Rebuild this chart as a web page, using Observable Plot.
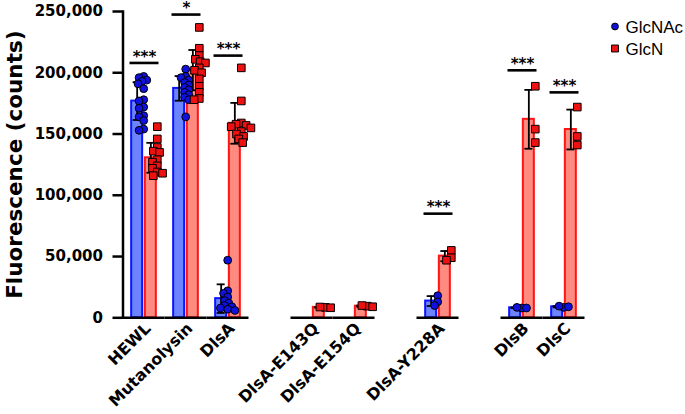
<!DOCTYPE html>
<html>
<head>
<meta charset="utf-8">
<script src="https://cdn.jsdelivr.net/npm/d3@7"></script>
<script src="https://cdn.jsdelivr.net/npm/@observablehq/plot@0.6"></script>
<style>
  html, body { margin: 0; padding: 0; background: #fff; }
</style>
</head>
<body>
<div id="chart"></div>
<script>
// ---- data (values in thousands of counts) ----
const groups = ["HEWL", "Mutanolysin", "DlsA", "DlsA-E143Q", "DlsA-E154Q", "DlsA-Y228A", "DlsB", "DlsC"];
// layout slots on the category axis (blank slots are the gaps between groups)
const slots = ["HEWL", "Mutanolysin", "DlsA", " ", "DlsA-E143Q", "DlsA-E154Q", "  ", "DlsA-Y228A", "   ", "DlsB", "DlsC"];
const series = ["GlcNAc", "GlcN"];

const glcnacValues = [
  [197, 196, 194, 193, 191, 187, 178, 177, 172, 171, 165, 164, 161, 154, 153],
  [203, 197, 196, 194, 192, 190, 188, 186, 184, 182, 180, 178, 164],
  [47, 22, 20, 17, 14, 12, 10, 9, 8, 7, 6],
  [],
  [],
  [18, 13, 10],
  [8, 8.5, 8],
  [8.5, 9.5, 9]
];
const glcnValues = [
  [156, 146, 139, 136, 135, 129, 127, 124, 122, 119, 118, 116],
  [237, 220, 214, 211, 209, 208, 204, 202, 200, 195, 189, 184, 179, 178],
  [204, 177, 159, 158, 157, 156, 155, 152, 150, 148, 146, 143],
  [8.5, 8.8, 8.2],
  [9.5, 10, 9],
  [55, 49, 47],
  [189, 154, 143],
  [172, 148, 141]
];

const sigGroups = ["HEWL", "Mutanolysin", "DlsA", "DlsA-Y228A", "DlsB", "DlsC"];
const sigLabels = ["***", "*", "***", "***", "***", "***"];
const sigLevels = [208, 247.5, 214, 85, 202, 184];

const yTicks = [0, 50000, 100000, 150000, 200000, 250000];

// ---- tables built from the arrays ----
const points = [];
groups.forEach((g, i) => {
  glcnacValues[i].forEach(v => points.push({group: g, series: "GlcNAc", value: v * 1000}));
  glcnValues[i].forEach(v => points.push({group: g, series: "GlcN", value: v * 1000}));
});
const summary = [];
groups.forEach((g, i) => {
  [[series[0], glcnacValues[i]], [series[1], glcnValues[i]]].forEach(([s, vals]) => {
    if (!vals.length) return;
    const m = d3.mean(vals) * 1000;
    const sd = (d3.deviation(vals) || 0) * 1000;
    summary.push({group: g, series: s, mean: m, lo: m - sd, hi: m + sd});
  });
});
const sig = sigGroups.map((g, i) => ({group: g, label: sigLabels[i], y: sigLevels[i] * 1000}));

const C = {
  blueFill: "#6c84ff", blueStroke: "#0a14ff", blueDot: "#1111dd",
  redFill: "#ff8a80", redStroke: "#ff1414", redDot: "#ee1111"
};
const bold = {fontWeight: "bold"};

const chart = Plot.plot({
  width: 685,
  height: 414,
  marginLeft: 122.5,
  marginRight: 100.5,
  marginTop: 11,
  marginBottom: 96.7,
  style: {fontFamily: "DejaVu Sans", background: "#fff", color: "#000", overflow: "visible"},
  fx: {domain: slots, paddingInner: 0, paddingOuter: 0, round: false, label: null},
  x: {domain: series, paddingInner: 0.05, paddingOuter: 0.56, round: false, axis: null},
  y: {domain: [0, 250000], label: null},
  marks: [
    // bars
    Plot.barY(summary.filter(d => d.series === "GlcNAc"), {fx: "group", x: "series", y: "mean",
      fill: C.blueFill, stroke: C.blueStroke, strokeWidth: 2, insetLeft: 1, insetRight: 1}),
    Plot.barY(summary.filter(d => d.series === "GlcN"), {fx: "group", x: "series", y: "mean",
      fill: C.redFill, stroke: C.redStroke, strokeWidth: 2, insetLeft: 1, insetRight: 1}),
    // error bars (mean ± SD)
    Plot.ruleX(summary, {fx: "group", x: "series", y1: "lo", y2: "hi", stroke: "#000", strokeWidth: 1.8}),
    Plot.tickY(summary, {fx: "group", x: "series", y: "hi", stroke: "#000", strokeWidth: 1.8, insetLeft: 2.5, insetRight: 2.5}),
    Plot.tickY(summary, {fx: "group", x: "series", y: "lo", stroke: "#000", strokeWidth: 1.8, insetLeft: 2.5, insetRight: 2.5}),
    // baseline
    Plot.ruleY([0], {stroke: "#000", strokeWidth: 2.5}),
    // individual points
    Plot.dot(points.filter(d => d.series === "GlcNAc"), Plot.dodgeX({anchor: "middle", padding: -3},
      {fx: "group", y: "value", r: 3.9, dx: -6.8, fill: C.blueDot, stroke: "#000", strokeWidth: 1})),
    Plot.dot(points.filter(d => d.series === "GlcN"), Plot.dodgeX({anchor: "middle", padding: -3.2},
      {fx: "group", y: "value", r: 4.3, symbol: "square", dx: 6.8, fill: C.redDot, stroke: "#000", strokeWidth: 1})),
    // significance
    Plot.tickY(sig, {fx: "group", y: "y", stroke: "#000", strokeWidth: 2.6, insetLeft: 7, insetRight: 6}),
    Plot.text(sig, {fx: "group", y: "y", text: "label", dy: -6, dx: 0.5, fontSize: 15, ...bold, lineAnchor: "middle"}),
    // y axis
    Plot.frame({anchor: "left", facetAnchor: "left", stroke: "#000", strokeWidth: 2.5}),
    Plot.axisY({ticks: yTicks, tickFormat: d3.format(","), tickSize: 10, tickPadding: 10, facetAnchor: "left",
      strokeWidth: 2.5, fontSize: 15, ...bold, label: null}),
    Plot.text(["Fluorescence (counts)"], {frameAnchor: "left", facetAnchor: "left", rotate: -90, dx: -108,
      textAnchor: "middle", lineAnchor: "middle", fontSize: 21.5, ...bold}),
    // category axis
    Plot.axisFx({anchor: "bottom", tickRotate: -45, tickSize: 0, tickPadding: 8, dx: 4, fontSize: 16, ...bold,
      tickFormat: d => d.trim() === "" ? "" : d, label: null}),
    // legend
    Plot.dot([0], {frameAnchor: "top-right", facetAnchor: "right", dx: 30, dy: 15, r: 3.4,
      fill: C.blueDot, stroke: "#000", strokeWidth: 1}),
    Plot.dot([0], {frameAnchor: "top-right", facetAnchor: "right", dx: 30, dy: 37, r: 3.9, symbol: "square",
      fill: C.redDot, stroke: "#000", strokeWidth: 1}),
    Plot.text(["GlcNAc"], {frameAnchor: "top-right", facetAnchor: "right", dx: 40.5, dy: 16, textAnchor: "start",
      lineAnchor: "middle", fontSize: 17, fontFamily: "Liberation Sans"}),
    Plot.text(["GlcN"], {frameAnchor: "top-right", facetAnchor: "right", dx: 40.5, dy: 38, textAnchor: "start",
      lineAnchor: "middle", fontSize: 17, fontFamily: "Liberation Sans"})
  ]
});
document.getElementById("chart").appendChild(chart);
</script>
</body>
</html>
